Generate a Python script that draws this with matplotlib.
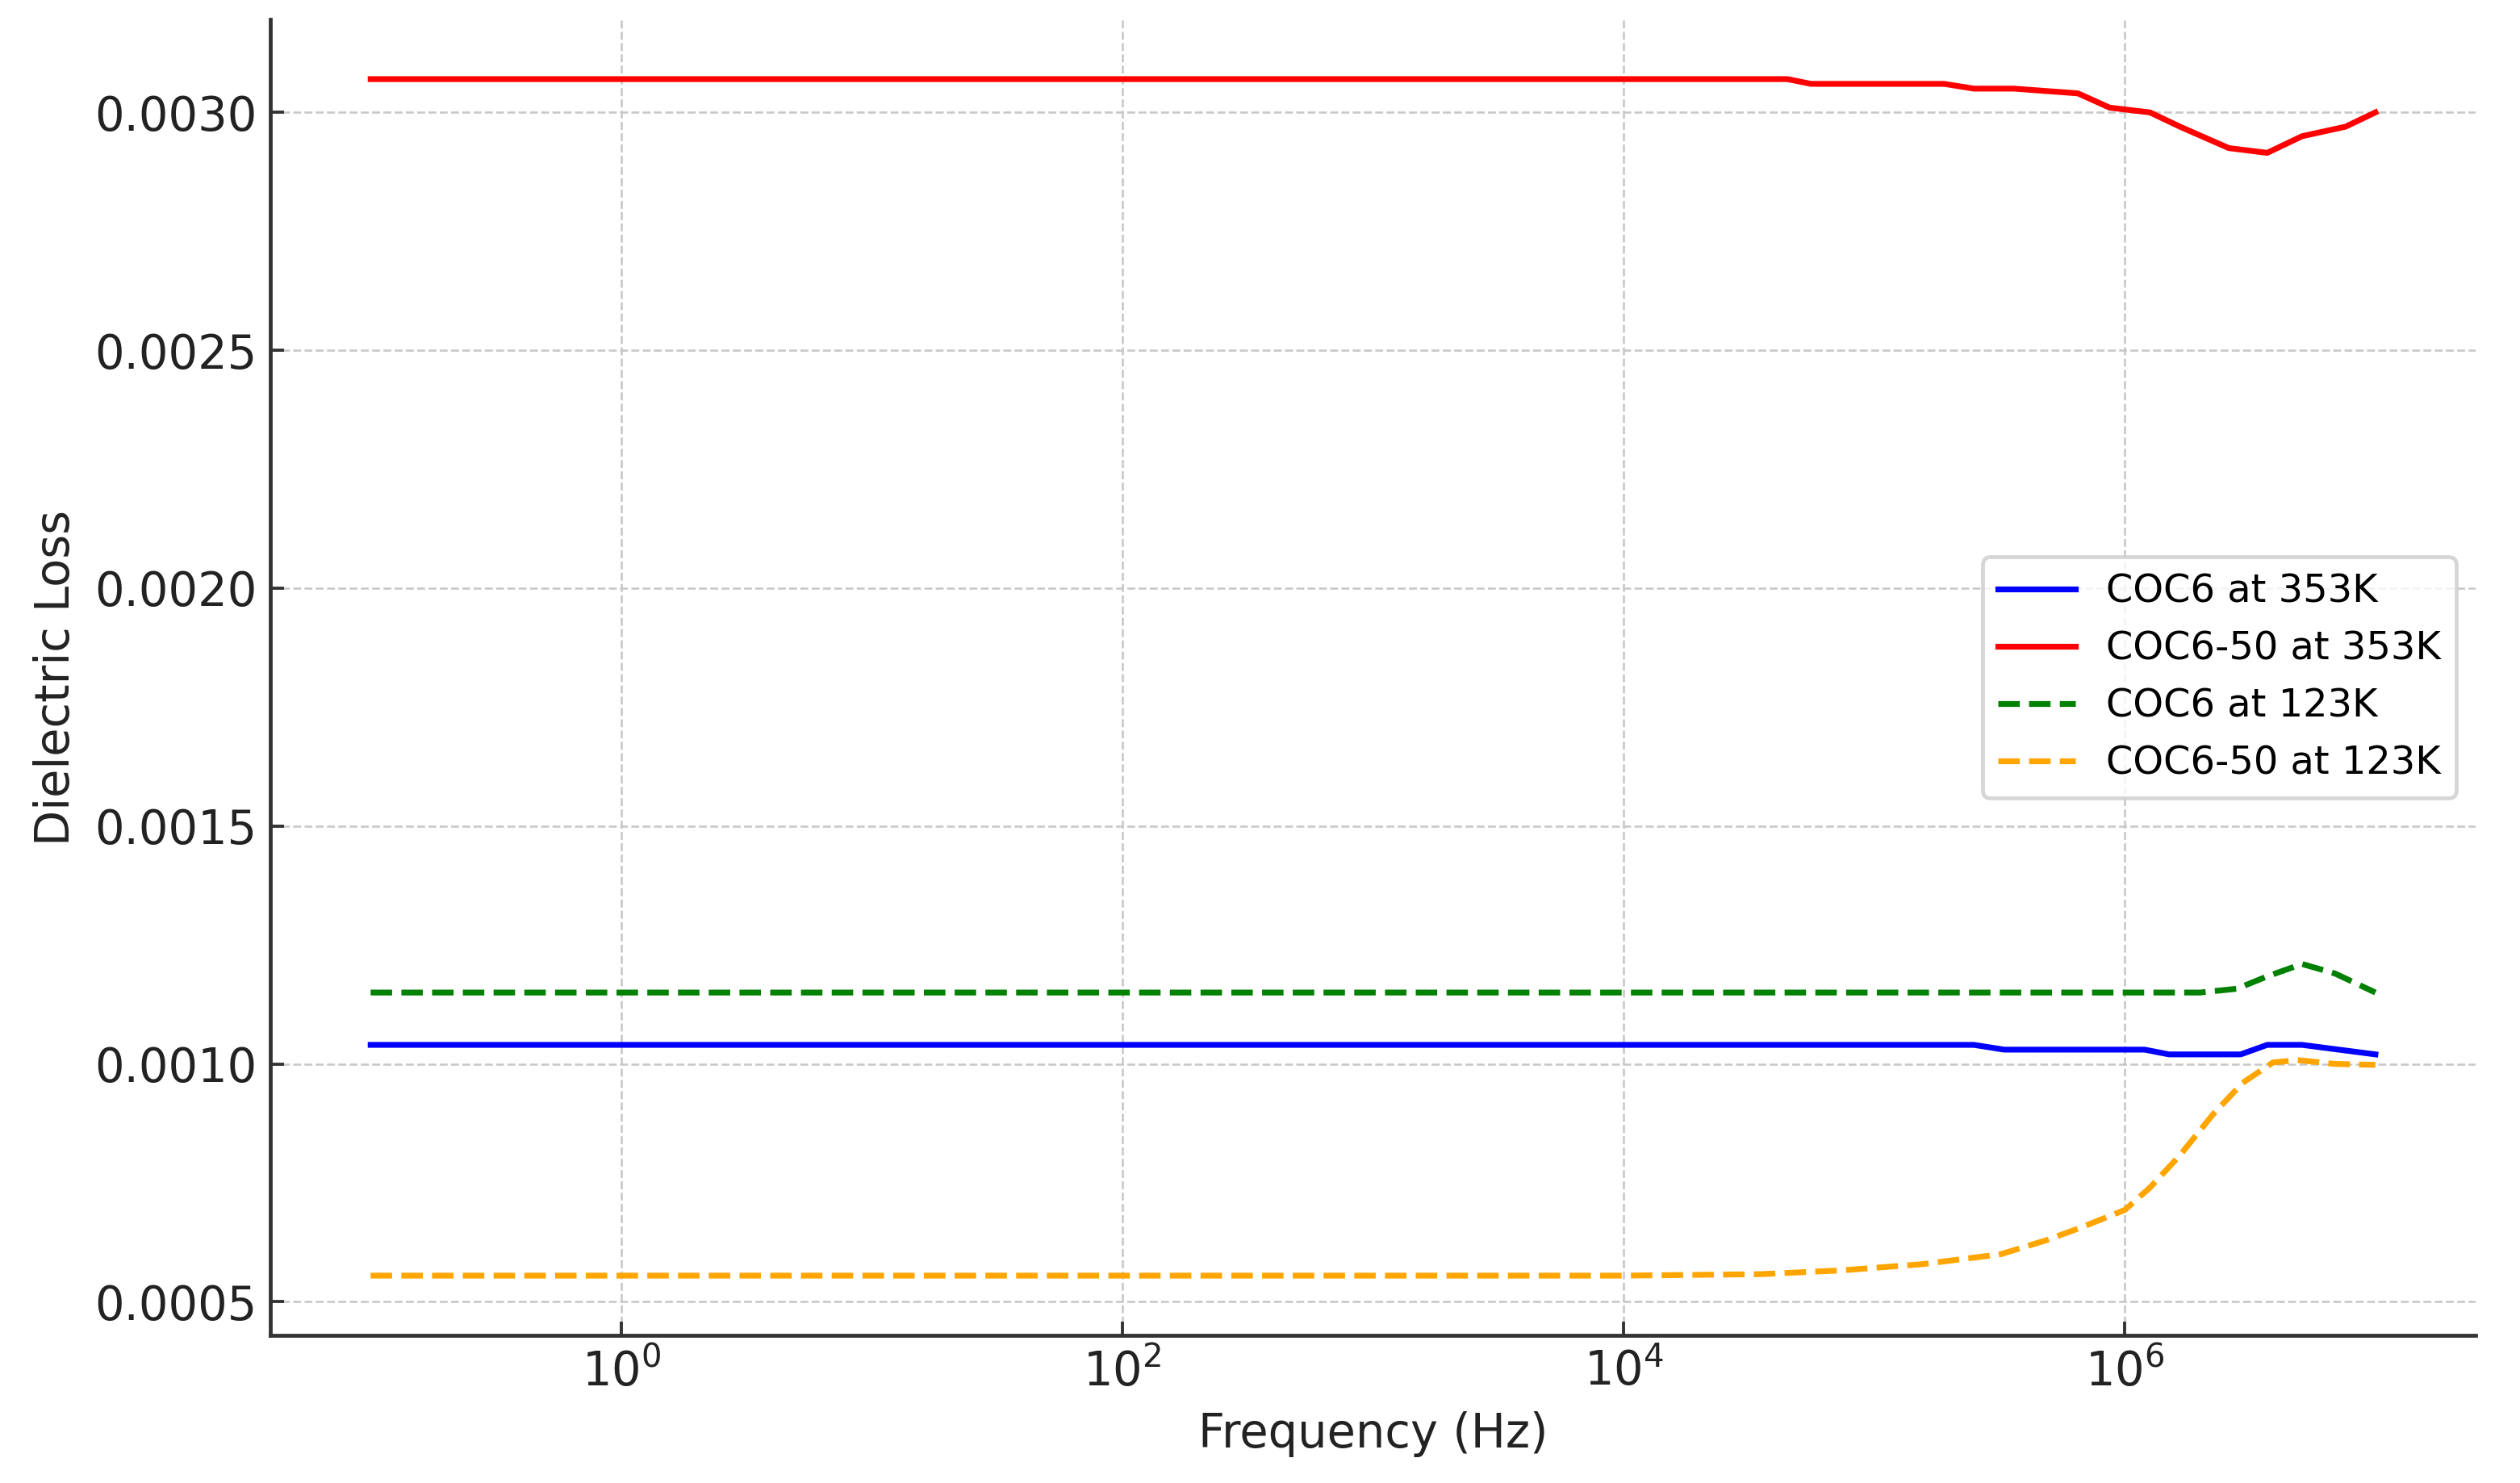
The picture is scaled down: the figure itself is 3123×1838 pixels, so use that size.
import matplotlib
matplotlib.use("Agg")
import matplotlib.pyplot as plt

# frequencies (Hz) and dielectric loss
freq_coc6_353 = [1e-1, 2.5e5, 3.3e5, 1.2e6, 1.5e6, 2.9e6, 3.7e6, 5.1e6, 1e7]
loss_coc6_353 = [0.00104, 0.00104, 0.00103, 0.00103, 0.00102, 0.00102,
                 0.00104, 0.00104, 0.00102]

freq_coc650_353 = [1e-1, 4.5e4, 5.6e4, 1.9e5, 2.5e5, 3.6e5, 6.5e5, 8.7e5,
                   1.26e6, 1.66e6, 2.6e6, 3.7e6, 5.1e6, 7.6e6, 1e7]
loss_coc650_353 = [0.00307, 0.00307, 0.00306, 0.00306, 0.00305, 0.00305,
                   0.00304, 0.00301, 0.00300, 0.00297, 0.002925, 0.002915,
                   0.00295, 0.00297, 0.00300]

freq_coc6_123 = [1e-1, 2.0e6, 2.8e6, 3.7e6, 5.1e6, 6.9e6, 1e7]
loss_coc6_123 = [0.00115, 0.00115, 0.001158, 0.001184, 0.00121, 0.00119,
                 0.00115]

freq_coc650_123 = [1e-1, 1e4, 3.5e4, 7.4e4, 1.55e5, 3.2e5, 4.9e5, 6.6e5,
                   1e6, 1.26e6, 1.66e6, 2.24e6, 2.95e6, 3.9e6, 4.9e6, 6.9e6,
                   1e7]
loss_coc650_123 = [0.000555, 0.000555, 0.000558, 0.000566, 0.000579, 0.0006,
                   0.00063, 0.000655, 0.000693, 0.00074, 0.000808, 0.000893,
                   0.00096, 0.001003, 0.001008, 0.001, 0.000998]

xticks = [1e0, 1e2, 1e4, 1e6]
yticks = [0.0005, 0.0010, 0.0015, 0.0020, 0.0025, 0.0030]

DPI = 345
fig = plt.figure(figsize=(3123 / DPI, 1838 / DPI), dpi=DPI)
ax = fig.add_axes([0.1073, 0.0995, 0.8751, 0.8875])

ax.plot(freq_coc6_353, loss_coc6_353, color="blue", lw=1.5, label="COC6 at 353K")
ax.plot(freq_coc650_353, loss_coc650_353, color="red", lw=1.5,
        label="COC6-50 at 353K")
ax.plot(freq_coc6_123, loss_coc6_123, color="green", lw=1.5, ls="--",
        label="COC6 at 123K")
ax.plot(freq_coc650_123, loss_coc650_123, color="orange", lw=1.5, ls="--",
        label="COC6-50 at 123K")

ax.set_xscale("log")
ax.set_xticks(xticks)
ax.minorticks_off()
ax.set_yticks(yticks)
ax.set_yticklabels([f"{v:.4f}" for v in yticks])

ax.set_xlabel("Frequency (Hz)", fontsize=12, color="#222222")
ax.set_ylabel("Dielectric Loss", fontsize=12, color="#222222")
ax.tick_params(direction="in", length=3.5, labelsize=12, colors="#333333",
               labelcolor="#222222")

ax.grid(True, ls="--", lw=0.55, color="#c8c8c8")
for side in ("top", "right"):
    ax.spines[side].set_visible(False)
for side in ("left", "bottom"):
    ax.spines[side].set_color("#333333")
    ax.spines[side].set_linewidth(1.0)

ax.legend(loc="center right", fontsize=10)

fig.savefig("out.png", dpi=DPI)
